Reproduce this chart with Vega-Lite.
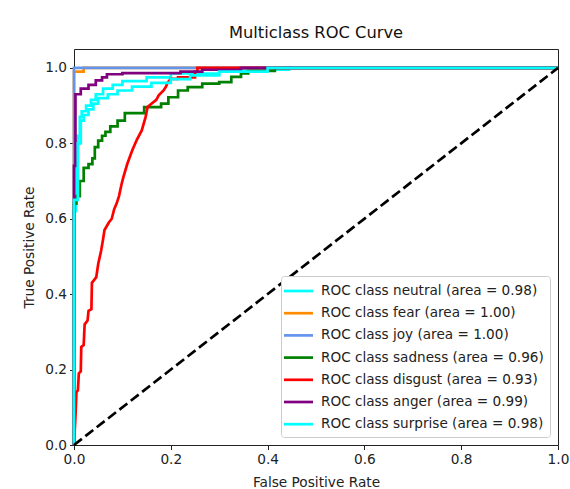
{
  "$schema": "https://vega.github.io/schema/vega-lite/v6.json",
  "width": 484,
  "height": 396,
  "padding": {"left": 22, "top": 24, "right": 3, "bottom": 2},
  "background": "white",
  "title": {"text": "Multiclass ROC Curve", "font": "DejaVu Sans", "fontSize": 16.3, "fontWeight": "normal", "color": "#111", "frame": "group", "offset": 8},
  "config": {
    "view": {"stroke": "#222", "strokeWidth": 1},
    "axis": {"domain": false, "grid": false, "tickColor": "#222", "tickSize": 4.5, "labelPadding": 3, "labelFont": "DejaVu Sans", "labelFontSize": 13.7, "labelColor": "#222", "labelFlush": false, "titleFont": "DejaVu Sans", "titleFontSize": 13.7, "titleFontWeight": "normal", "titleColor": "#222"}
  },
  "datasets": {
    "classes": [
      {"cls": "neutral", "label": "ROC class neutral (area = 0.98)"},
      {"cls": "fear", "label": "ROC class fear (area = 1.00)"},
      {"cls": "joy", "label": "ROC class joy (area = 1.00)"},
      {"cls": "sadness", "label": "ROC class sadness (area = 0.96)"},
      {"cls": "disgust", "label": "ROC class disgust (area = 0.93)"},
      {"cls": "anger", "label": "ROC class anger (area = 0.99)"},
      {"cls": "surprise", "label": "ROC class surprise (area = 0.98)"}
    ],
    "curves": [
      {"cls": "neutral", "fpr": 0, "tpr": 0},
      {"cls": "neutral", "fpr": 0, "tpr": 0.62},
      {"cls": "neutral", "fpr": 0.004, "tpr": 0.62},
      {"cls": "neutral", "fpr": 0.004, "tpr": 0.75},
      {"cls": "neutral", "fpr": 0.008, "tpr": 0.75},
      {"cls": "neutral", "fpr": 0.008, "tpr": 0.82},
      {"cls": "neutral", "fpr": 0.012, "tpr": 0.82},
      {"cls": "neutral", "fpr": 0.012, "tpr": 0.87},
      {"cls": "neutral", "fpr": 0.016, "tpr": 0.87},
      {"cls": "neutral", "fpr": 0.016, "tpr": 0.885},
      {"cls": "neutral", "fpr": 0.025, "tpr": 0.885},
      {"cls": "neutral", "fpr": 0.025, "tpr": 0.9},
      {"cls": "neutral", "fpr": 0.035, "tpr": 0.9},
      {"cls": "neutral", "fpr": 0.035, "tpr": 0.915},
      {"cls": "neutral", "fpr": 0.045, "tpr": 0.915},
      {"cls": "neutral", "fpr": 0.045, "tpr": 0.93},
      {"cls": "neutral", "fpr": 0.06, "tpr": 0.93},
      {"cls": "neutral", "fpr": 0.06, "tpr": 0.945},
      {"cls": "neutral", "fpr": 0.08, "tpr": 0.945},
      {"cls": "neutral", "fpr": 0.08, "tpr": 0.955},
      {"cls": "neutral", "fpr": 0.1, "tpr": 0.955},
      {"cls": "neutral", "fpr": 0.1, "tpr": 0.965},
      {"cls": "neutral", "fpr": 0.15, "tpr": 0.965},
      {"cls": "neutral", "fpr": 0.15, "tpr": 0.975},
      {"cls": "neutral", "fpr": 0.2, "tpr": 0.975},
      {"cls": "neutral", "fpr": 0.2, "tpr": 0.985},
      {"cls": "neutral", "fpr": 0.3, "tpr": 0.985},
      {"cls": "neutral", "fpr": 0.3, "tpr": 0.995},
      {"cls": "neutral", "fpr": 0.444, "tpr": 0.995},
      {"cls": "neutral", "fpr": 0.444, "tpr": 1},
      {"cls": "neutral", "fpr": 1, "tpr": 1},

      {"cls": "fear", "fpr": 0, "tpr": 0},
      {"cls": "fear", "fpr": 0, "tpr": 0.99},
      {"cls": "fear", "fpr": 0.02, "tpr": 0.99},
      {"cls": "fear", "fpr": 0.02, "tpr": 1},
      {"cls": "fear", "fpr": 1, "tpr": 1},

      {"cls": "joy", "fpr": 0, "tpr": 0},
      {"cls": "joy", "fpr": 0, "tpr": 1},
      {"cls": "joy", "fpr": 1, "tpr": 1},

      {"cls": "sadness", "fpr": 0, "tpr": 0},
      {"cls": "sadness", "fpr": 0, "tpr": 0.64},
      {"cls": "sadness", "fpr": 0.005, "tpr": 0.64},
      {"cls": "sadness", "fpr": 0.005, "tpr": 0.66},
      {"cls": "sadness", "fpr": 0.012, "tpr": 0.66},
      {"cls": "sadness", "fpr": 0.012, "tpr": 0.7},
      {"cls": "sadness", "fpr": 0.02, "tpr": 0.7},
      {"cls": "sadness", "fpr": 0.02, "tpr": 0.735},
      {"cls": "sadness", "fpr": 0.03, "tpr": 0.735},
      {"cls": "sadness", "fpr": 0.03, "tpr": 0.745},
      {"cls": "sadness", "fpr": 0.038, "tpr": 0.745},
      {"cls": "sadness", "fpr": 0.038, "tpr": 0.76},
      {"cls": "sadness", "fpr": 0.043, "tpr": 0.76},
      {"cls": "sadness", "fpr": 0.043, "tpr": 0.79},
      {"cls": "sadness", "fpr": 0.05, "tpr": 0.79},
      {"cls": "sadness", "fpr": 0.05, "tpr": 0.807},
      {"cls": "sadness", "fpr": 0.058, "tpr": 0.807},
      {"cls": "sadness", "fpr": 0.058, "tpr": 0.82},
      {"cls": "sadness", "fpr": 0.065, "tpr": 0.82},
      {"cls": "sadness", "fpr": 0.065, "tpr": 0.83},
      {"cls": "sadness", "fpr": 0.075, "tpr": 0.83},
      {"cls": "sadness", "fpr": 0.075, "tpr": 0.845},
      {"cls": "sadness", "fpr": 0.09, "tpr": 0.845},
      {"cls": "sadness", "fpr": 0.09, "tpr": 0.86},
      {"cls": "sadness", "fpr": 0.105, "tpr": 0.86},
      {"cls": "sadness", "fpr": 0.105, "tpr": 0.88},
      {"cls": "sadness", "fpr": 0.145, "tpr": 0.88},
      {"cls": "sadness", "fpr": 0.145, "tpr": 0.896},
      {"cls": "sadness", "fpr": 0.18, "tpr": 0.896},
      {"cls": "sadness", "fpr": 0.18, "tpr": 0.905},
      {"cls": "sadness", "fpr": 0.195, "tpr": 0.905},
      {"cls": "sadness", "fpr": 0.195, "tpr": 0.922},
      {"cls": "sadness", "fpr": 0.215, "tpr": 0.922},
      {"cls": "sadness", "fpr": 0.215, "tpr": 0.94},
      {"cls": "sadness", "fpr": 0.235, "tpr": 0.94},
      {"cls": "sadness", "fpr": 0.235, "tpr": 0.949},
      {"cls": "sadness", "fpr": 0.265, "tpr": 0.949},
      {"cls": "sadness", "fpr": 0.265, "tpr": 0.958},
      {"cls": "sadness", "fpr": 0.3, "tpr": 0.958},
      {"cls": "sadness", "fpr": 0.3, "tpr": 0.962},
      {"cls": "sadness", "fpr": 0.325, "tpr": 0.962},
      {"cls": "sadness", "fpr": 0.325, "tpr": 0.976},
      {"cls": "sadness", "fpr": 0.345, "tpr": 0.976},
      {"cls": "sadness", "fpr": 0.345, "tpr": 0.985},
      {"cls": "sadness", "fpr": 0.36, "tpr": 0.985},
      {"cls": "sadness", "fpr": 0.36, "tpr": 0.992},
      {"cls": "sadness", "fpr": 0.415, "tpr": 0.992},
      {"cls": "sadness", "fpr": 0.415, "tpr": 1},
      {"cls": "sadness", "fpr": 1, "tpr": 1},

      {"cls": "disgust", "fpr": 0, "tpr": 0},
      {"cls": "disgust", "fpr": 0.003, "tpr": 0.075},
      {"cls": "disgust", "fpr": 0.005, "tpr": 0.14},
      {"cls": "disgust", "fpr": 0.008, "tpr": 0.145},
      {"cls": "disgust", "fpr": 0.01, "tpr": 0.19},
      {"cls": "disgust", "fpr": 0.014, "tpr": 0.195},
      {"cls": "disgust", "fpr": 0.015, "tpr": 0.26},
      {"cls": "disgust", "fpr": 0.02, "tpr": 0.265},
      {"cls": "disgust", "fpr": 0.022, "tpr": 0.32},
      {"cls": "disgust", "fpr": 0.028, "tpr": 0.33},
      {"cls": "disgust", "fpr": 0.03, "tpr": 0.356},
      {"cls": "disgust", "fpr": 0.036, "tpr": 0.36},
      {"cls": "disgust", "fpr": 0.037, "tpr": 0.43},
      {"cls": "disgust", "fpr": 0.043, "tpr": 0.44},
      {"cls": "disgust", "fpr": 0.046, "tpr": 0.445},
      {"cls": "disgust", "fpr": 0.05, "tpr": 0.48},
      {"cls": "disgust", "fpr": 0.056, "tpr": 0.515},
      {"cls": "disgust", "fpr": 0.06, "tpr": 0.545},
      {"cls": "disgust", "fpr": 0.063, "tpr": 0.57},
      {"cls": "disgust", "fpr": 0.072, "tpr": 0.59},
      {"cls": "disgust", "fpr": 0.078, "tpr": 0.6},
      {"cls": "disgust", "fpr": 0.083, "tpr": 0.625},
      {"cls": "disgust", "fpr": 0.088, "tpr": 0.64},
      {"cls": "disgust", "fpr": 0.093, "tpr": 0.66},
      {"cls": "disgust", "fpr": 0.098, "tpr": 0.69},
      {"cls": "disgust", "fpr": 0.102, "tpr": 0.71},
      {"cls": "disgust", "fpr": 0.11, "tpr": 0.745},
      {"cls": "disgust", "fpr": 0.12, "tpr": 0.78},
      {"cls": "disgust", "fpr": 0.13, "tpr": 0.81},
      {"cls": "disgust", "fpr": 0.14, "tpr": 0.834},
      {"cls": "disgust", "fpr": 0.148, "tpr": 0.87},
      {"cls": "disgust", "fpr": 0.152, "tpr": 0.896},
      {"cls": "disgust", "fpr": 0.16, "tpr": 0.905},
      {"cls": "disgust", "fpr": 0.17, "tpr": 0.915},
      {"cls": "disgust", "fpr": 0.175, "tpr": 0.927},
      {"cls": "disgust", "fpr": 0.185, "tpr": 0.94},
      {"cls": "disgust", "fpr": 0.19, "tpr": 0.95},
      {"cls": "disgust", "fpr": 0.193, "tpr": 0.96},
      {"cls": "disgust", "fpr": 0.2, "tpr": 0.971},
      {"cls": "disgust", "fpr": 0.215, "tpr": 0.971},
      {"cls": "disgust", "fpr": 0.215, "tpr": 0.975},
      {"cls": "disgust", "fpr": 0.25, "tpr": 0.975},
      {"cls": "disgust", "fpr": 0.25, "tpr": 0.99},
      {"cls": "disgust", "fpr": 0.255, "tpr": 0.99},
      {"cls": "disgust", "fpr": 0.255, "tpr": 1},
      {"cls": "disgust", "fpr": 1, "tpr": 1},

      {"cls": "anger", "fpr": 0, "tpr": 0},
      {"cls": "anger", "fpr": 0, "tpr": 0.74},
      {"cls": "anger", "fpr": 0.003, "tpr": 0.74},
      {"cls": "anger", "fpr": 0.003, "tpr": 0.93},
      {"cls": "anger", "fpr": 0.014, "tpr": 0.93},
      {"cls": "anger", "fpr": 0.014, "tpr": 0.945},
      {"cls": "anger", "fpr": 0.03, "tpr": 0.945},
      {"cls": "anger", "fpr": 0.03, "tpr": 0.955},
      {"cls": "anger", "fpr": 0.045, "tpr": 0.955},
      {"cls": "anger", "fpr": 0.045, "tpr": 0.967},
      {"cls": "anger", "fpr": 0.058, "tpr": 0.967},
      {"cls": "anger", "fpr": 0.058, "tpr": 0.975},
      {"cls": "anger", "fpr": 0.068, "tpr": 0.975},
      {"cls": "anger", "fpr": 0.068, "tpr": 0.983},
      {"cls": "anger", "fpr": 0.1, "tpr": 0.983},
      {"cls": "anger", "fpr": 0.1, "tpr": 0.986},
      {"cls": "anger", "fpr": 0.22, "tpr": 0.986},
      {"cls": "anger", "fpr": 0.22, "tpr": 0.99},
      {"cls": "anger", "fpr": 0.265, "tpr": 0.99},
      {"cls": "anger", "fpr": 0.265, "tpr": 0.995},
      {"cls": "anger", "fpr": 0.345, "tpr": 0.995},
      {"cls": "anger", "fpr": 0.345, "tpr": 1},
      {"cls": "anger", "fpr": 1, "tpr": 1},

      {"cls": "surprise", "fpr": 0, "tpr": 0},
      {"cls": "surprise", "fpr": 0, "tpr": 0.65},
      {"cls": "surprise", "fpr": 0.008, "tpr": 0.65},
      {"cls": "surprise", "fpr": 0.008, "tpr": 0.8},
      {"cls": "surprise", "fpr": 0.014, "tpr": 0.8},
      {"cls": "surprise", "fpr": 0.014, "tpr": 0.86},
      {"cls": "surprise", "fpr": 0.02, "tpr": 0.86},
      {"cls": "surprise", "fpr": 0.02, "tpr": 0.875},
      {"cls": "surprise", "fpr": 0.03, "tpr": 0.875},
      {"cls": "surprise", "fpr": 0.03, "tpr": 0.89},
      {"cls": "surprise", "fpr": 0.04, "tpr": 0.89},
      {"cls": "surprise", "fpr": 0.04, "tpr": 0.905},
      {"cls": "surprise", "fpr": 0.05, "tpr": 0.905},
      {"cls": "surprise", "fpr": 0.05, "tpr": 0.92},
      {"cls": "surprise", "fpr": 0.07, "tpr": 0.92},
      {"cls": "surprise", "fpr": 0.07, "tpr": 0.93},
      {"cls": "surprise", "fpr": 0.09, "tpr": 0.93},
      {"cls": "surprise", "fpr": 0.09, "tpr": 0.94},
      {"cls": "surprise", "fpr": 0.12, "tpr": 0.94},
      {"cls": "surprise", "fpr": 0.12, "tpr": 0.95},
      {"cls": "surprise", "fpr": 0.16, "tpr": 0.95},
      {"cls": "surprise", "fpr": 0.16, "tpr": 0.96},
      {"cls": "surprise", "fpr": 0.2, "tpr": 0.96},
      {"cls": "surprise", "fpr": 0.2, "tpr": 0.97},
      {"cls": "surprise", "fpr": 0.24, "tpr": 0.97},
      {"cls": "surprise", "fpr": 0.24, "tpr": 0.98},
      {"cls": "surprise", "fpr": 0.3, "tpr": 0.98},
      {"cls": "surprise", "fpr": 0.3, "tpr": 0.99},
      {"cls": "surprise", "fpr": 0.4, "tpr": 0.99},
      {"cls": "surprise", "fpr": 0.4, "tpr": 1},
      {"cls": "surprise", "fpr": 1, "tpr": 1}
    ]
  },
  "layer": [
    {
      "data": {"name": "curves"},
      "transform": [
        {"lookup": "cls", "from": {"data": {"name": "classes"}, "key": "cls", "fields": ["label"]}}
      ],
      "mark": {"type": "line", "strokeWidth": 2.7},
      "encoding": {
        "x": {"field": "fpr", "type": "quantitative", "scale": {"domain": [0, 1], "nice": false, "zero": false},
              "axis": {"title": "False Positive Rate", "values": [0, 0.2, 0.4, 0.6, 0.8, 1], "format": ".1f", "titlePadding": 9}},
        "y": {"field": "tpr", "type": "quantitative", "scale": {"domain": [0, 1.05], "nice": false, "zero": false},
              "axis": {"title": "True Positive Rate", "values": [0, 0.2, 0.4, 0.6, 0.8, 1], "format": ".1f", "titlePadding": 8}},
        "color": {
          "field": "label", "type": "nominal",
          "scale": {
            "domain": ["ROC class neutral (area = 0.98)", "ROC class fear (area = 1.00)", "ROC class joy (area = 1.00)", "ROC class sadness (area = 0.96)", "ROC class disgust (area = 0.93)", "ROC class anger (area = 0.99)", "ROC class surprise (area = 0.98)"],
            "range": ["#00FFFF", "#FF8C00", "#6495ED", "#008000", "#FF0000", "#800080", "#00FFFF"]
          },
          "legend": {
            "title": null, "orient": "bottom-right", "offset": 8,
            "symbolType": "M-2,0H2", "symbolSize": 210, "symbolStrokeWidth": 2.7, "symbolOffset": 2.5,
            "labelFont": "DejaVu Sans", "labelFontSize": 13.6, "labelColor": "#222", "labelLimit": 400, "labelOffset": 13.5,
            "rowPadding": 6.2, "padding": 6, "fillColor": "white", "strokeColor": "#cccccc", "cornerRadius": 3
          }
        },
        "order": [{"field": "fpr", "type": "quantitative"}, {"field": "tpr", "type": "quantitative"}]
      }
    },
    {
      "data": {"values": [{"fpr": 0, "tpr": 0}, {"fpr": 1, "tpr": 1}]},
      "mark": {"type": "line", "color": "black", "strokeWidth": 2.7, "strokeDash": [10, 4.4]},
      "encoding": {
        "x": {"field": "fpr", "type": "quantitative"},
        "y": {"field": "tpr", "type": "quantitative"}
      }
    }
  ]
}
